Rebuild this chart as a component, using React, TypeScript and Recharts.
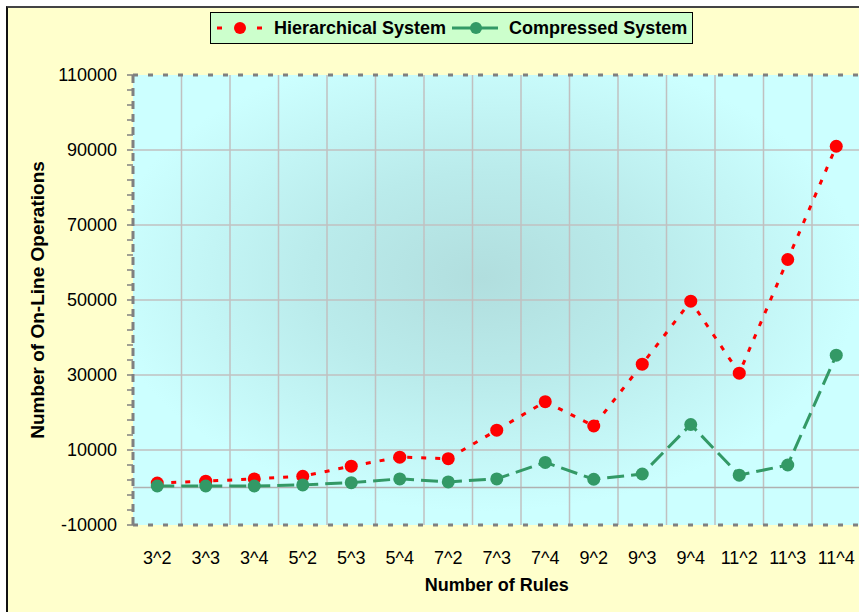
import React from 'react';
import { LineChart, Line, XAxis, YAxis, CartesianGrid, ReferenceLine, Legend } from 'recharts';

const categories = ['3^2', '3^3', '3^4', '5^2', '5^3', '5^4', '7^2', '7^3', '7^4', '9^2', '9^3', '9^4', '11^2', '11^3', '11^4'];
const hierarchical = [1200, 1700, 2300, 3000, 5700, 8100, 7700, 15300, 22900, 16400, 32900, 49700, 30500, 60800, 91000];
const compressed = [400, 400, 400, 700, 1300, 2300, 1500, 2300, 6700, 2200, 3600, 16800, 3300, 6000, 35300];
const majorTicks = [-10000, 10000, 30000, 50000, 70000, 90000, 110000];
const minorTicks = [-10000, -6000, -2000, 2000, 6000, 10000, 14000, 18000, 22000, 26000, 30000, 34000, 38000, 42000, 46000, 50000, 54000, 58000, 62000, 66000, 70000, 74000, 78000, 82000, 86000, 90000, 94000, 98000, 102000, 106000, 110000];
const innerGridValues = [10000, 30000, 50000, 70000, 90000];

const data = categories.map((c, i) => ({ cat: c, h: hierarchical[i], c: compressed[i] }));

const FONT = '"Liberation Sans", Arial, sans-serif';

const LegendBox = () => (
  <div
    style={{
      width: 483,
      height: 32,
      boxSizing: 'border-box',
      border: '1px solid #000',
      background: '#CCFFCC',
      display: 'flex',
      alignItems: 'center',
      fontFamily: FONT,
      fontWeight: 'bold',
      fontSize: 18,
      color: '#000',
      whiteSpace: 'nowrap',
    }}
  >
    <svg width={46} height={20} style={{ marginLeft: 6 }}>
      <line x1={0} y1={10} x2={46} y2={10} stroke="#FF0000" strokeWidth={3} strokeDasharray="5 15" strokeDashoffset={0} />
      <circle cx={23} cy={10} r={6} fill="#FF0000" />
    </svg>
    <span style={{ marginLeft: 11 }}>Hierarchical System</span>
    <svg width={46} height={20} style={{ marginLeft: 6 }}>
      <line x1={0} y1={10} x2={46} y2={10} stroke="#339966" strokeWidth={3} />
      <circle cx={24} cy={10} r={6} fill="#339966" />
    </svg>
    <span style={{ marginLeft: 11 }}>Compressed System</span>
  </div>
);

export default function App() {
  return (
    <div style={{ position: 'absolute', left: 0, top: 0, width: 859, height: 612, overflow: 'hidden', background: '#FFFFFF' }}>
      <div
        style={{
          position: 'absolute',
          left: 6,
          top: 6,
          width: 900,
          height: 700,
          background: '#FFFFCC',
          borderLeft: '2px solid #111',
          borderTop: '2px solid #444',
        }}
      />
      <div style={{ position: 'absolute', left: 0, top: 0 }}>
        <LineChart width={862} height={612} data={data} margin={{ top: 75, right: 1.5, bottom: 27, left: 53 }}>
          <defs>
            <radialGradient id="plotBg" cx="48%" cy="45%" r="52%">
              <stop offset="0%" stopColor="#B1DEDE" />
              <stop offset="45%" stopColor="#BAEBEB" />
              <stop offset="100%" stopColor="#CCFFFF" />
            </radialGradient>
          </defs>
          <CartesianGrid
            fill="url(#plotBg)"
            fillOpacity={1}
            horizontal={false}
            stroke="#C0C0C0"
            strokeWidth={1.5}
            verticalCoordinatesGenerator={(props: any) => {
              const off = props.offset;
              const n = categories.length;
              const w = off.width / n;
              return categories.slice(1).map((_, i) => off.left + w * (i + 1));
            }}
          />
          {innerGridValues.map((v) => (
            <ReferenceLine key={v} y={v} stroke="#C0C0C0" strokeWidth={1.5} />
          ))}
          <ReferenceLine y={0} stroke="#B0B0B0" strokeWidth={1.5} />
          <ReferenceLine y={110000} stroke="#808080" strokeWidth={3} strokeDasharray="5 10" />
          <XAxis
            dataKey="cat"
            height={60}
            padding={{ left: 24.25, right: 24.25 }}
            axisLine={{ stroke: '#808080', strokeWidth: 3, strokeDasharray: '5 10' }}
            tickLine={false}
            tickSize={6}
            tickMargin={20}
            interval={0}
            tick={{ fill: '#000', fontSize: 18, fontFamily: FONT }}
            label={{ value: 'Number of Rules', position: 'insideBottom', offset: -6, style: { fill: '#000', fontSize: 18, fontWeight: 'bold', fontFamily: FONT } }}
          />
          <YAxis
            type="number"
            width={80}
            domain={[-10000, 110000]}
            ticks={minorTicks}
            interval={0}
            allowDataOverflow
            axisLine={{ stroke: '#808080', strokeWidth: 3, strokeDasharray: '8 5' }}
            tickLine={{ stroke: '#808080', strokeWidth: 1.5 }}
            tickSize={6}
            tickMargin={10}
            tickFormatter={(v: number) => (majorTicks.includes(v) ? String(v) : '')}
            tick={{ fill: '#000', fontSize: 18, fontFamily: FONT }}
            label={{
              value: 'Number of On-Line Operations',
              angle: -90,
              position: 'insideLeft',
              offset: -16,
              style: { textAnchor: 'middle', fill: '#000', fontSize: 19, fontWeight: 'bold', fontFamily: FONT },
            }}
          />
          <Legend
            verticalAlign="middle"
            align="center"
            layout="horizontal"
            wrapperStyle={{ top: 12, left: 210, width: 483, height: 32 }}
            content={() => <LegendBox />}
          />
          <Line
            dataKey="h"
            name="Hierarchical System"
            stroke="#FF0000"
            strokeWidth={3}
            strokeDasharray="5 9"
            dot={{ r: 6.5, fill: '#FF0000', stroke: 'none', strokeWidth: 0 }}
            activeDot={false}
            isAnimationActive={false}
          />
          <Line
            dataKey="c"
            name="Compressed System"
            stroke="#339966"
            strokeWidth={3}
            strokeDasharray="17 7"
            dot={{ r: 6.5, fill: '#339966', stroke: 'none', strokeWidth: 0 }}
            activeDot={false}
            isAnimationActive={false}
          />
        </LineChart>
      </div>
    </div>
  );
}
